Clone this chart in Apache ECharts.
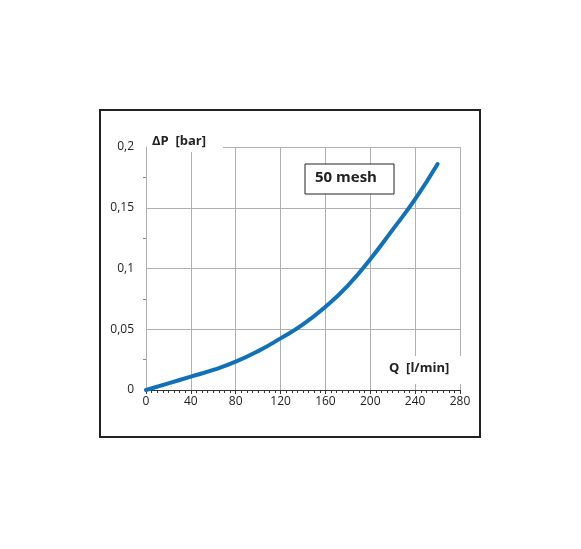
<!DOCTYPE html><html><head><meta charset="utf-8"><script src="https://cdn.jsdelivr.net/npm/echarts@6/dist/echarts.min.js"></script></head><body style="margin:0;background:#fff"><div id="c" style="width:581px;height:549px"></div><script>
const qValues=[0,20,40,60,80,100,120,140,160,180,200,220,240,260];
const dpValues=[0,0.0055,0.011,0.0165,0.0233,0.032,0.0425,0.054,0.0685,0.086,0.1077,0.132,0.157,0.186];
const xTicks=[0,40,80,120,160,200,240,280];
const yTicks=[0,0.05,0.1,0.15,0.2];
const ch=echarts.init(document.getElementById('c'));
const f='"Open Sans", "Liberation Sans", sans-serif';
ch.setOption({animation:false,
grid:{left:146,right:121,top:147,bottom:159},
xAxis:{type:'value',min:0,max:280,interval:40,
 axisLine:{show:true,onZero:false,lineStyle:{color:'#333',width:1}},
 axisTick:{show:true,length:4,lineStyle:{color:'#333'}},
 minorTick:{show:true,splitNumber:8,length:3,lineStyle:{color:'#333'}},
 axisLabel:{color:'#222',fontSize:12,fontFamily:f,margin:6},
 splitLine:{show:true,lineStyle:{color:'#b0b0b0'}}},
yAxis:{type:'value',min:0,max:0.2,interval:0.05,
 axisLine:{show:true,lineStyle:{color:'#b0b0b0'}},
 axisTick:{show:false},
 minorTick:{show:true,splitNumber:2,length:3,lineStyle:{color:'#888'}},
 axisLabel:{color:'#222',fontSize:12,fontFamily:f,margin:12,formatter:v=>String(+v.toFixed(2)).replace('.',',')},
 splitLine:{show:true,lineStyle:{color:'#b0b0b0'}}},
series:[{type:'line',data:qValues.map((q,i)=>[q,dpValues[i]]),smooth:true,symbol:'none',lineStyle:{color:'#1070b8',width:4,cap:'round'},z:3}],
graphic:[
 {type:'rect',shape:{x:100,y:110,width:380,height:327},style:{fill:'none',stroke:'#222',lineWidth:2},silent:true},
 {type:'rect',shape:{x:147,y:130,width:76,height:22},style:{fill:'#fff'},z:10},
 {type:'text',left:152,top:135,style:{text:'ΔP  [bar]',font:'bold 13px '+f,fill:'#222'},z:11},
 {type:'rect',shape:{x:380,y:356,width:82,height:28},style:{fill:'#fff'},z:10},
 {type:'text',left:389,top:362,style:{text:'Q  [l/min]',font:'bold 13px '+f,fill:'#222'},z:11},
 {type:'rect',shape:{x:305,y:164,width:89,height:30},style:{fill:'#fff',stroke:'#222',lineWidth:1},z:10},
 {type:'text',left:315,top:170,style:{text:'50 mesh',font:'bold 15px '+f,fill:'#222'},z:11}
]});
</script></body></html>
